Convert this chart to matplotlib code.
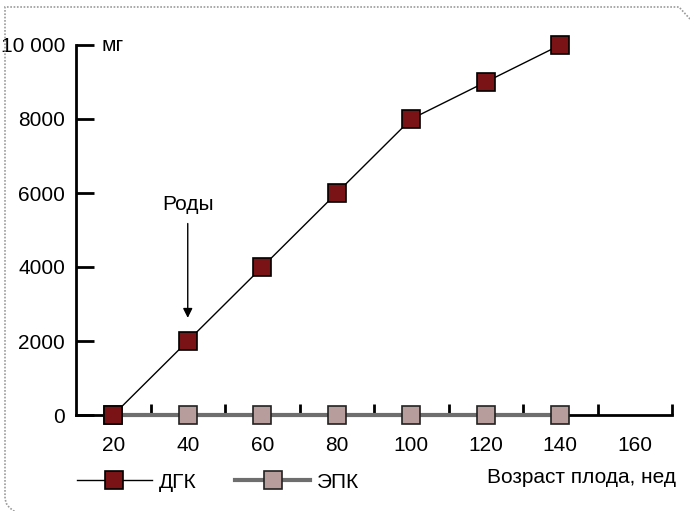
import matplotlib
matplotlib.use("Agg")
import matplotlib.pyplot as plt
from matplotlib.patches import PathPatch
from matplotlib.path import Path
from matplotlib.lines import Line2D

plt.rcParams['font.family'] = ['Liberation Sans', 'DejaVu Sans']

ages = [20, 40, 60, 80, 100, 120, 140]
dgk = [0, 2000, 4000, 6000, 8000, 9000, 10000]
epk = [0, 0, 0, 0, 0, 0, 0]
xtick_labels = [20, 40, 60, 80, 100, 120, 140, 160]
ytick_vals = [0, 2000, 4000, 6000, 8000, 10000]
ytick_labels = ['0', '2000', '4000', '6000', '8000', '10 000']

dgk_color = '#7a1316'
epk_color = '#b89d9d'
gray_line = '#6e6e6e'
FS = 15

W, H = 690, 511
fig = plt.figure(figsize=(6.9, 5.11), dpi=100)
ax = fig.add_axes([76/W, 96/H, 596/W, 370/H])

ax.plot(ages, epk, color=gray_line, lw=3, marker='s', ms=12.5, mfc=epk_color,
        mec='#222222', mew=1.2, zorder=4, clip_on=False, label='ЭПК')
ax.plot(ages, dgk, color='black', lw=1, marker='s', ms=12.5, mfc=dgk_color,
        mec='black', mew=1.2, zorder=5, clip_on=False, label='ДГК')

ax.set_xlim(10, 170)
ax.set_ylim(0, 10000)
for s in ['top', 'right']:
    ax.spines[s].set_visible(False)
for s in ['left', 'bottom']:
    ax.spines[s].set_linewidth(2)

ax.set_xticks(xtick_labels)
ax.set_xticklabels([str(v) for v in xtick_labels], fontsize=FS)
ax.tick_params(axis='x', which='major', length=0, pad=15)
ax.set_xticks([30, 50, 70, 90, 110, 130, 150, 170], minor=True)
ax.tick_params(axis='x', which='minor', direction='in', length=8, width=2)

ax.set_yticks(ytick_vals)
ax.set_yticklabels(ytick_labels, fontsize=FS)
ax.tick_params(axis='y', direction='in', length=13, width=2, pad=8)

ax.text(0.043, 1.0, 'мг', transform=ax.transAxes, fontsize=FS, va='center', ha='left')

ax.annotate('', xy=(40, 2550), xytext=(40, 5250),
            arrowprops=dict(arrowstyle='-|>', color='black', lw=1, mutation_scale=14))
ax.text(40, 5700, 'Роды', fontsize=FS, ha='center', va='center')

fig.text(676/W, 1 - 477/H, 'Возраст плода, нед', fontsize=FS, ha='right', va='center')

h1 = Line2D([], [], color='black', lw=1, marker='s', ms=12.5, mfc=dgk_color, mec='black', mew=1.2)
h2 = Line2D([], [], color=gray_line, lw=3, marker='s', ms=12.5, mfc=epk_color, mec='#222222', mew=1.2)
leg = fig.legend([h1, h2], ['ДГК', 'ЭПК'], loc='center left', bbox_to_anchor=(62/W, 1 - 482/H),
                 ncol=2, frameon=False, fontsize=FS, handlelength=3.6, columnspacing=1.85,
                 handletextpad=0.35, borderpad=0.2)

# dotted frame: top-left square, top-right chamfer, bottom-left rounded (rest beyond the image)
px = lambda x, y: (x / W, 1 - y / H)
verts = [px(690, 19), px(679, 7), px(5, 7), px(5, 497), px(5, 507), px(16, 512)]
codes = [Path.MOVETO, Path.LINETO, Path.LINETO, Path.LINETO, Path.CURVE3, Path.CURVE3]
frame = PathPatch(Path(verts, codes), transform=fig.transFigure, fill=False,
                  edgecolor='#999999', linestyle=(0, (1, 1)), lw=1.2)
fig.add_artist(frame)

fig.savefig('out.png', dpi=100)
